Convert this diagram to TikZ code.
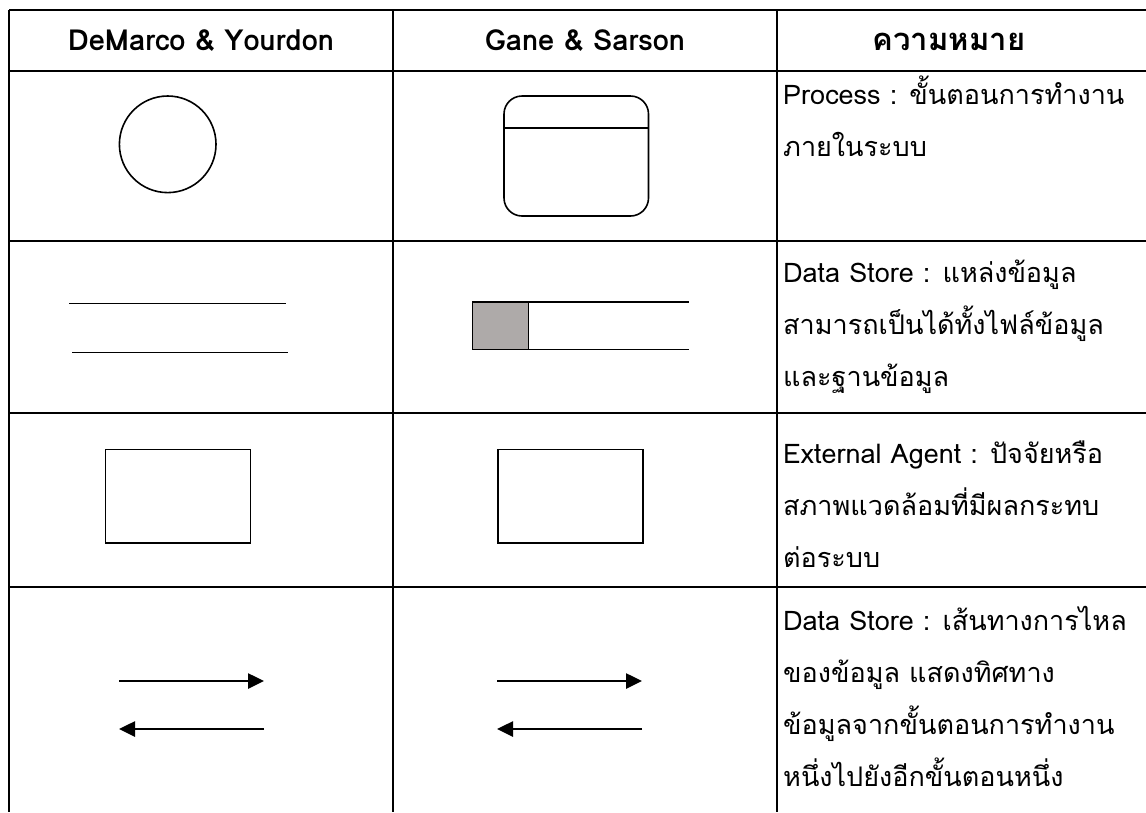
\documentclass[tikz,border=0pt]{standalone}
\usepackage{fontspec}
\setmainfont[Script=Thai]{Loma}
\usetikzlibrary{arrows.meta}
\begin{document}
\begin{tikzpicture}[x=1pt,y=-1pt,
  grid/.style={line width=1.6pt,black},
  shp/.style={line width=1.6pt,black},
  flow/.style={line width=2.6pt,-{Triangle[length=16pt,width=15pt]}},
  hdr/.style={font=\bfseries\fontsize{29}{29}\selectfont,anchor=base,inner sep=0pt},
  txt/.style={font=\fontsize{27}{27}\selectfont,anchor=base west,inner sep=0pt}]
\useasboundingbox (0,0) rectangle (1146,812);
% table grid
\draw[grid] (9,10) -- (1146,10);
\draw[grid] (9,71) -- (1146,71);
\draw[grid] (9,241) -- (1146,241);
\draw[grid] (9,413) -- (1146,413);
\draw[grid] (9,587) -- (1146,587);
\draw[grid] (9,10) -- (9,812);
\draw[grid] (393,10) -- (393,812);
\draw[grid] (777,10) -- (777,812);
% headers
\node[hdr] (h1) at (201,50) {DeMarco \& Yourdon};
\node[hdr] (h2) at (585,50) {Gane \& Sarson};
\node[hdr,font=\bfseries\fontsize{31}{31}\selectfont] (h3) at (949,50) {ความหมาย};
% row 1
\draw[shp] (167.7,144.3) circle (48.3);
\draw[shp,rounded corners=18pt] (504,96) rectangle (648.5,216);
\draw[shp] (504,128) -- (648.5,128);
\node[txt] (t11) at (783,104) {Process : ขั้นตอนการทำงาน};
\node[txt] (t12) at (783,156) {ภายในระบบ};
% row 2
\draw[shp,line width=1.8pt] (69,303.5) -- (285.5,303.5);
\draw[shp,line width=1.8pt] (72,352.5) -- (288,352.5);
\draw[shp,fill={rgb,255:red,174;green,170;blue,169}] (472.5,302) rectangle (528.5,349.5);
\draw[shp] (528.5,302) -- (689,302);
\draw[shp] (528.5,349.5) -- (689,349.5);
\node[txt] (t21) at (783,282) {Data Store : แหล่งข้อมูล};
\node[txt] (t22) at (783,334) {สามารถเป็นได้ทั้งไฟล์ข้อมูล};
\node[txt] (t23) at (783,386) {และฐานข้อมูล};
% row 3
\draw[shp] (105.5,449.5) rectangle (250.5,543);
\draw[shp] (498,449.5) rectangle (643,543);
\node[txt] (t31) at (783,463) {External Agent : ปัจจัยหรือ};
\node[txt] (t32) at (783,515) {สภาพแวดล้อมที่มีผลกระทบ};
\node[txt] (t33) at (783,567) {ต่อระบบ};
% row 4
\coordinate (a1s) at (119,681);
\coordinate (a1e) at (264,681);
\coordinate (a2s) at (264,729);
\coordinate (a2e) at (119,729);
\coordinate (b1s) at (497,681);
\coordinate (b1e) at (642,681);
\coordinate (b2s) at (642,729);
\coordinate (b2e) at (497,729);
\draw[flow] (a1s) -- (a1e);
\draw[flow] (a2s) -- (a2e);
\draw[flow] (b1s) -- (b1e);
\draw[flow] (b2s) -- (b2e);
\node[txt] (t41) at (783,630) {Data Store : เส้นทางการไหล};
\node[txt] (t42) at (783,682) {ของข้อมูล แสดงทิศทาง};
\node[txt] (t43) at (783,734) {ข้อมูลจากขั้นตอนการทำงาน};
\node[txt] (t44) at (783,786) {หนึ่งไปยังอีกขั้นตอนหนึ่ง};
\end{tikzpicture}
\end{document}
